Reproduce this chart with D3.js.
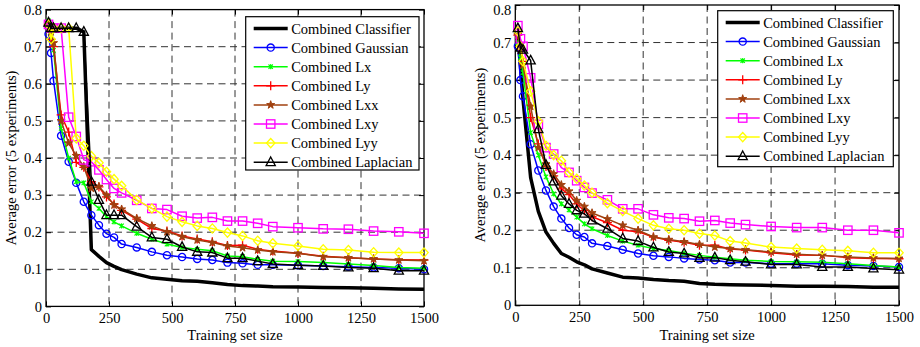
<!DOCTYPE html>
<html>
<head>
<meta charset="utf-8">
<script src="https://cdn.jsdelivr.net/npm/d3@7"></script>
<style>
  body { margin: 0; background: #fff; }
  svg text { font-family: "Liberation Serif", "Times New Roman", serif; fill: #000; }
</style>
</head>
<body>
<div id="chart"></div>
<script>
// training set sizes shared by every curve
var trainingSizes = [10, 20, 30, 60, 90, 120, 150, 180, 210, 240, 270, 300, 360, 420, 480,
    540, 600, 660, 720, 780, 840, 900, 1000, 1100, 1200, 1300, 1400, 1500];
var xTicks = [0, 250, 500, 750, 1000, 1250, 1500];
var yTicks = [0, 0.1, 0.2, 0.3, 0.4, 0.5, 0.6, 0.7, 0.8];
var seriesNames = ["Combined Classifier", "Combined Gaussian", "Combined Lx", "Combined Ly",
    "Combined Lxx", "Combined Lxy", "Combined Lyy", "Combined Laplacian"];

// left figure
var leftClassifier = [0.75, 0.75, 0.75, 0.75, 0.75, 0.75, 0.74, 0.153, 0.135, 0.118, 0.108, 0.099, 0.087, 0.077,
    0.073, 0.069, 0.068, 0.064, 0.059, 0.056, 0.055, 0.053, 0.052, 0.051, 0.05, 0.049, 0.047, 0.046];
var leftGaussian = [0.734, 0.683, 0.608, 0.46, 0.39, 0.333, 0.282, 0.246, 0.219, 0.196, 0.186, 0.168, 0.159, 0.147,
    0.138, 0.133, 0.128, 0.125, 0.118, 0.116, 0.112, 0.112, 0.111, 0.109, 0.107, 0.105, 0.103, 0.1];
var leftLx = [0.77, 0.74, 0.69, 0.48, 0.4, 0.336, 0.333, 0.282, 0.264, 0.242, 0.228, 0.217, 0.197, 0.181,
    0.168, 0.159, 0.154, 0.15, 0.136, 0.134, 0.127, 0.122, 0.121, 0.118, 0.114, 0.11, 0.105, 0.103];
var leftLy = [0.76, 0.72, 0.7, 0.516, 0.47, 0.388, 0.375, 0.336, 0.322, 0.295, 0.276, 0.259, 0.235, 0.21,
    0.203, 0.19, 0.182, 0.174, 0.164, 0.165, 0.154, 0.149, 0.143, 0.135, 0.131, 0.128, 0.126, 0.125];
var leftLxx = [0.76, 0.74, 0.71, 0.5, 0.44, 0.406, 0.377, 0.318, 0.323, 0.3, 0.273, 0.262, 0.237, 0.217,
    0.201, 0.188, 0.179, 0.172, 0.163, 0.158, 0.152, 0.147, 0.143, 0.134, 0.131, 0.128, 0.125, 0.123];
var leftLxy = [0.76, 0.75, 0.75, 0.75, 0.51, 0.458, 0.395, 0.39, 0.368, 0.342, 0.318, 0.306, 0.286, 0.264,
    0.261, 0.243, 0.238, 0.24, 0.23, 0.23, 0.224, 0.215, 0.212, 0.209, 0.208, 0.203, 0.201, 0.197];
var leftLyy = [0.76, 0.72, 0.75, 0.75, 0.75, 0.453, 0.433, 0.405, 0.387, 0.363, 0.343, 0.325, 0.287, 0.264,
    0.242, 0.228, 0.217, 0.21, 0.199, 0.19, 0.177, 0.17, 0.163, 0.154, 0.152, 0.146, 0.145, 0.145];
var leftLaplacian = [0.765, 0.75, 0.75, 0.75, 0.75, 0.75, 0.74, 0.336, 0.287, 0.246, 0.246, 0.246, 0.215, 0.186,
    0.181, 0.16, 0.147, 0.145, 0.13, 0.13, 0.122, 0.114, 0.111, 0.109, 0.105, 0.103, 0.096, 0.096];

// right figure
var rightClassifier = [0.72, 0.64, 0.55, 0.34, 0.25, 0.195, 0.165, 0.138, 0.128, 0.116, 0.108, 0.097, 0.086, 0.075,
    0.073, 0.069, 0.066, 0.064, 0.058, 0.056, 0.055, 0.054, 0.053, 0.051, 0.051, 0.05, 0.048, 0.048];
var rightGaussian = [0.69, 0.6, 0.557, 0.429, 0.359, 0.306, 0.263, 0.231, 0.206, 0.188, 0.182, 0.165, 0.158, 0.148,
    0.138, 0.132, 0.129, 0.125, 0.122, 0.12, 0.114, 0.114, 0.111, 0.111, 0.111, 0.107, 0.105, 0.102];
var rightLx = [0.7, 0.66, 0.62, 0.46, 0.4, 0.342, 0.297, 0.27, 0.254, 0.235, 0.217, 0.204, 0.186, 0.171,
    0.16, 0.151, 0.146, 0.139, 0.133, 0.128, 0.124, 0.12, 0.117, 0.116, 0.115, 0.111, 0.106, 0.102];
var rightLy = [0.72, 0.69, 0.65, 0.5, 0.43, 0.37, 0.345, 0.31, 0.295, 0.27, 0.252, 0.236, 0.22, 0.2,
    0.196, 0.182, 0.173, 0.168, 0.16, 0.16, 0.15, 0.147, 0.14, 0.134, 0.133, 0.127, 0.125, 0.124];
var rightLxx = [0.72, 0.68, 0.64, 0.53, 0.42, 0.376, 0.35, 0.321, 0.304, 0.279, 0.263, 0.246, 0.23, 0.213,
    0.2, 0.182, 0.175, 0.169, 0.162, 0.155, 0.151, 0.148, 0.142, 0.136, 0.133, 0.129, 0.126, 0.125];
var rightLxy = [0.745, 0.71, 0.69, 0.606, 0.482, 0.42, 0.403, 0.367, 0.354, 0.332, 0.314, 0.299, 0.281, 0.257,
    0.257, 0.241, 0.233, 0.231, 0.224, 0.226, 0.219, 0.215, 0.21, 0.207, 0.207, 0.2, 0.2, 0.193];
var rightLyy = [0.73, 0.69, 0.65, 0.57, 0.49, 0.425, 0.4, 0.385, 0.354, 0.337, 0.319, 0.3, 0.272, 0.251,
    0.231, 0.213, 0.204, 0.2, 0.191, 0.186, 0.171, 0.166, 0.155, 0.151, 0.148, 0.145, 0.14, 0.14];
var rightLaplacian = [0.738, 0.686, 0.681, 0.652, 0.469, 0.374, 0.33, 0.292, 0.27, 0.253, 0.244, 0.226, 0.204, 0.178,
    0.171, 0.154, 0.142, 0.138, 0.126, 0.127, 0.12, 0.116, 0.109, 0.109, 0.102, 0.102, 0.098, 0.095];

var styles = [
    { color: "#000000", width: 3.5, marker: null },
    { color: "#0000ff", width: 1.5, marker: "circle" },
    { color: "#00ff00", width: 1.5, marker: "asterisk" },
    { color: "#ff0000", width: 1.5, marker: "plus" },
    { color: "#a0400f", width: 1.5, marker: "star" },
    { color: "#ff00ff", width: 1.5, marker: "square" },
    { color: "#ffff00", width: 1.5, marker: "diamond" },
    { color: "#000000", width: 1.5, marker: "triangle" }
];

var panels = [
    { box: { left: 46, right: 424, top: 9.6, bottom: 306.4 }, legend: { x: 245.7, y: 16.7, w: 173.3, h: 153.3 },
      series: [leftClassifier, leftGaussian, leftLx, leftLy, leftLxx, leftLxy, leftLyy, leftLaplacian] },
    { box: { left: 515.3, right: 899, top: 5, bottom: 305.3 }, legend: { x: 717.7, y: 10.7, w: 175.6, h: 156 },
      series: [rightClassifier, rightGaussian, rightLx, rightLy, rightLxx, rightLxy, rightLyy, rightLaplacian] }
];

var svg = d3.select("#chart")
    .append("svg")
    .attr("width", 920)
    .attr("height", 347);

function drawMarker(g, type, color) {
    if (type == "circle") {
        g.append("circle").attr("r", 3.6).attr("fill", "none").attr("stroke", color).attr("stroke-width", 1.3);
    } else if (type == "asterisk") {
        g.append("path").attr("d", "M-2.2,-2.2L2.2,2.2M-2.2,2.2L2.2,-2.2M0,-2.6V2.6")
            .attr("stroke", color).attr("stroke-width", 1.1);
    } else if (type == "plus") {
        g.append("path").attr("d", "M-4.5,0H4.5M0,-4.5V4.5").attr("stroke", color).attr("stroke-width", 1.3);
    } else if (type == "star") {
        g.append("path").attr("d", d3.symbol(d3.symbolStar, 20)()).attr("fill", color)
            .attr("stroke", color).attr("stroke-width", 1);
    } else if (type == "square") {
        g.append("rect").attr("x", -4.2).attr("y", -4.2).attr("width", 8.4).attr("height", 8.4)
            .attr("fill", "none").attr("stroke", color).attr("stroke-width", 1.3);
    } else if (type == "diamond") {
        g.append("path").attr("d", "M0,-4.6L4.2,0L0,4.6L-4.2,0Z").attr("fill", "none")
            .attr("stroke", color).attr("stroke-width", 1.3);
    } else if (type == "triangle") {
        g.append("path").attr("d", "M0,-5.2L4.6,3.4L-4.6,3.4Z").attr("fill", "none")
            .attr("stroke", color).attr("stroke-width", 1.3);
    }
}

panels.forEach(function (p) {
    var b = p.box;
    var x = d3.scaleLinear().domain([0, 1500]).range([b.left, b.right]);
    var y = d3.scaleLinear().domain([0, 0.8]).range([b.bottom, b.top]);
    var g = svg.append("g");

    // dashed grid
    g.selectAll(".vgrid").data(xTicks.slice(1, -1)).enter().append("line")
        .attr("x1", d => x(d)).attr("x2", d => x(d)).attr("y1", b.top).attr("y2", b.bottom)
        .attr("stroke", "#333").attr("stroke-width", 1).attr("stroke-dasharray", "7,4.5");
    g.selectAll(".hgrid").data(yTicks.slice(1, -1)).enter().append("line")
        .attr("x1", b.left).attr("x2", b.right).attr("y1", d => y(d)).attr("y2", d => y(d))
        .attr("stroke", "#333").attr("stroke-width", 1).attr("stroke-dasharray", "7,4.5");

    // axes, ticks pointing inward on all four sides
    var h = b.bottom - b.top, w = b.right - b.left;
    var xb = g.append("g").attr("transform", "translate(0," + b.bottom + ")")
        .call(d3.axisBottom(x).tickValues(xTicks).tickSize(-5).tickPadding(6).tickFormat(d3.format("d")));
    g.append("g").attr("transform", "translate(0," + b.top + ")")
        .call(d3.axisTop(x).tickValues(xTicks).tickSize(-5).tickFormat(""));
    var yl = g.append("g").attr("transform", "translate(" + b.left + ",0)")
        .call(d3.axisLeft(y).tickValues(yTicks).tickSize(-5).tickPadding(4).tickFormat(d => d == 0 ? "0" : d3.format(".1f")(d)));
    g.append("g").attr("transform", "translate(" + b.right + ",0)")
        .call(d3.axisRight(y).tickValues(yTicks).tickSize(-5).tickFormat(""));
    g.selectAll(".domain").remove();
    g.selectAll(".tick line").attr("stroke", "#000");
    xb.selectAll("text").attr("font-size", 14.5).attr("font-family", "Liberation Serif");
    yl.selectAll("text").attr("font-size", 14.5).attr("font-family", "Liberation Serif");
    // keep the top label inside the page
    yl.selectAll("text").filter(d => y(d) < 8).attr("dy", "0.62em");
    g.append("rect").attr("x", b.left).attr("y", b.top).attr("width", w).attr("height", h)
        .attr("fill", "none").attr("stroke", "#000").attr("stroke-width", 1.3);

    // curves
    var line = d3.line().x((d, i) => x(trainingSizes[i])).y(d => y(d));
    p.series.forEach(function (vals, k) {
        var st = styles[k];
        g.append("path").datum(vals).attr("d", line).attr("fill", "none")
            .attr("stroke", st.color).attr("stroke-width", st.width).attr("stroke-linejoin", "round");
        if (st.marker) {
            vals.forEach(function (v, i) {
                var m = g.append("g").attr("transform", "translate(" + x(trainingSizes[i]) + "," + y(v) + ")");
                drawMarker(m, st.marker, st.color);
            });
        }
    });

    // legend
    var L = p.legend;
    var lg = g.append("g");
    lg.append("rect").attr("x", L.x).attr("y", L.y).attr("width", L.w).attr("height", L.h)
        .attr("fill", "#fff").attr("stroke", "#000").attr("stroke-width", 1.2);
    seriesNames.forEach(function (name, k) {
        var st = styles[k];
        var ry = L.y + 11.8 + k * 19.1;
        lg.append("line").attr("x1", L.x + 8).attr("x2", L.x + 42).attr("y1", ry).attr("y2", ry)
            .attr("stroke", st.color).attr("stroke-width", st.width);
        if (st.marker) drawMarker(lg.append("g").attr("transform", "translate(" + (L.x + 25) + "," + ry + ")"), st.marker, st.color);
        lg.append("text").attr("x", L.x + 45.5).attr("y", ry).attr("dy", "0.35em")
            .attr("font-size", 14.5).text(name);
    });

    // axis titles
    g.append("text").attr("x", (b.left + b.right) / 2).attr("y", 340).attr("text-anchor", "middle")
        .attr("font-size", 14.5).text("Training set size");
    g.append("text").attr("transform", "translate(" + (b.left - 30) + "," + ((b.top + b.bottom) / 2) + ") rotate(-90)")
        .attr("text-anchor", "middle").attr("font-size", 14.5).text("Average error (5 experiments)");
});
</script>
</body>
</html>
